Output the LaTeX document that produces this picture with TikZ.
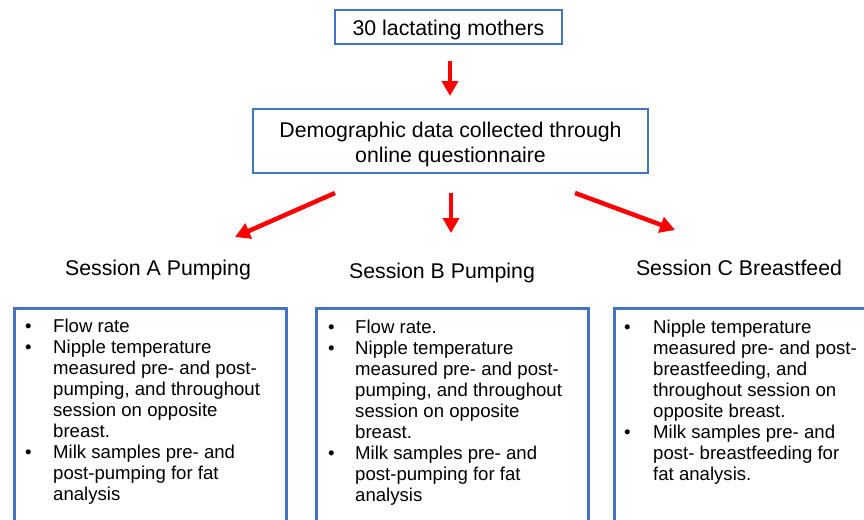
\documentclass[tikz,border=0pt]{standalone}
\usepackage{fontspec}
\setmainfont{Liberation Sans}
\usetikzlibrary{arrows.meta}
\definecolor{boxblue}{HTML}{4472C4}
\definecolor{arrred}{HTML}{FF0000}
\newcommand\bl{\textbullet}
\begin{document}
\begin{tikzpicture}[x=1pt,y=-1pt,
  bigtxt/.style={font=\fontsize{21.3}{25}\selectfont, inner sep=0pt},
  boxtxt/.style={font=\fontsize{18.6}{21}\selectfont, inner sep=0pt, anchor=base west},
  bluebox/.style={draw=boxblue, line width=2.5pt, inner sep=0pt},
  redarrow/.style={draw=arrred, line width=4.5pt, -{Triangle[width=16pt,length=15pt]}}]
\useasboundingbox (0,0) rectangle (864,519);
\clip (0,0) rectangle (864,519);
\fill[white] (0,0) rectangle (864,519);

% top box
\node[bluebox, bigtxt, draw=boxblue, minimum width=227pt, minimum height=34pt,
      text height=17pt, text depth=0pt] (top) at (448.5,27) {30 lactating mothers};

% demographic box
\node[bluebox, bigtxt, draw=boxblue, minimum width=395pt, minimum height=64pt,
      text height=20pt, text depth=28pt] (demo) at (450.5,141)
  {\begin{tabular}[t]{@{}c@{}}Demographic data collected through\\online questionnaire\end{tabular}};

% session labels
\node[bigtxt, anchor=base] (sa) at (158,275) {Session A Pumping};
\node[bigtxt, anchor=base] (sb) at (442,278) {Session B Pumping};
\node[bigtxt, anchor=base] (sc) at (739,275) {Session C Breastfeed};

% bottom boxes (cut off by the picture edge)
\node[bluebox, anchor=north west, minimum width=272pt, minimum height=240pt] (boxa) at (13,307) {};
\node[bluebox, anchor=north west, minimum width=272pt, minimum height=240pt] (boxb) at (315,307) {};
\node[bluebox, anchor=north west, minimum width=272pt, minimum height=240pt] (boxc) at (613,307) {};

\node[boxtxt] (ta) at (25,332.5) {\begin{tabular}[t]{@{}p{28pt}@{}l@{}}
\bl & Flow rate\\
\bl & Nipple temperature\\
 & measured pre- and post-\\
 & pumping, and throughout\\
 & session on opposite\\
 & breast.\\
\bl & Milk samples pre- and\\
 & post-pumping for fat\\
 & analysis
\end{tabular}};

\node[boxtxt] (tb) at (328,333) {\begin{tabular}[t]{@{}p{27pt}@{}l@{}}
\bl & Flow rate.\\
\bl & Nipple temperature\\
 & measured pre- and post-\\
 & pumping, and throughout\\
 & session on opposite\\
 & breast.\\
\bl & Milk samples pre- and\\
 & post-pumping for fat\\
 & analysis
\end{tabular}};

\node[boxtxt] (tc) at (624,333) {\begin{tabular}[t]{@{}p{29pt}@{}l@{}}
\bl & Nipple temperature\\
 & measured pre- and post-\\
 & breastfeeding, and\\
 & throughout session on\\
 & opposite breast.\\
\bl & Milk samples pre- and\\
 & post- breastfeeding for\\
 & fat analysis.
\end{tabular}};

% arrows
\coordinate (a0s) at (450,61);
\coordinate (a0e) at (450,96);
\coordinate (a1s) at (335,193);
\coordinate (a1e) at (235,237);
\coordinate (a2s) at (451,193);
\coordinate (a2e) at (451,233);
\coordinate (a3s) at (575,193);
\coordinate (a3e) at (675,230);
\draw[redarrow] (a0s) -- (a0e);
\draw[redarrow] (a1s) -- (a1e);
\draw[redarrow] (a2s) -- (a2e);
\draw[redarrow] (a3s) -- (a3e);
\end{tikzpicture}
\end{document}
